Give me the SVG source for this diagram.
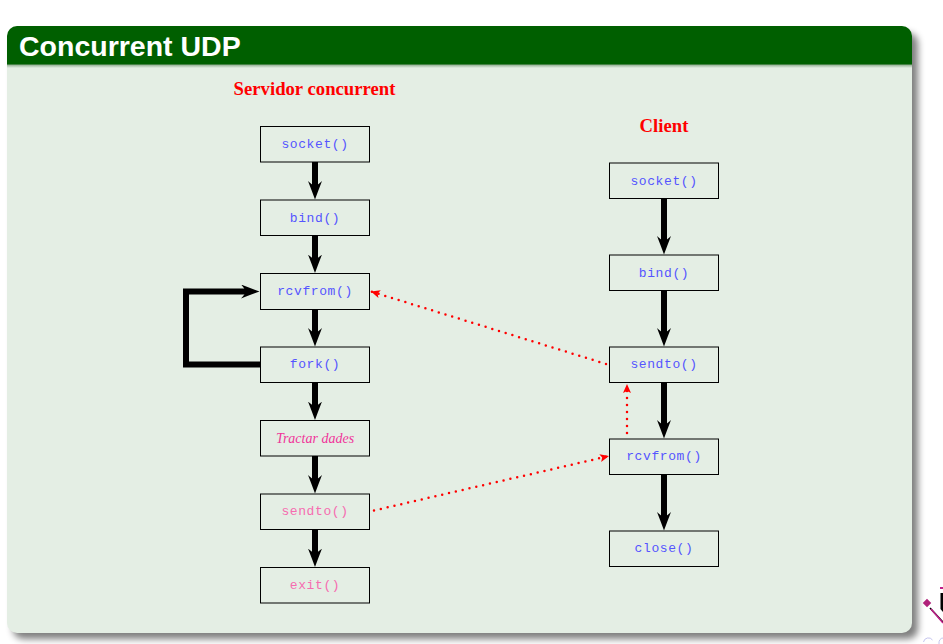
<svg xmlns="http://www.w3.org/2000/svg" width="943" height="644" viewBox="0 0 943 644">
<defs>
<filter id="sh" x="-5%" y="-5%" width="110%" height="110%"><feGaussianBlur stdDeviation="3.500"/></filter>
<linearGradient id="hb" x1="0" y1="0" x2="0" y2="1"><stop offset="0" stop-color="#7f9f7f"/><stop offset="1" stop-color="#e4eee4"/></linearGradient>
<marker id="ah" markerUnits="userSpaceOnUse" markerWidth="20" markerHeight="16" refX="6" refY="7" orient="auto"><path d="M0,0 Q9,3.500 18.500,7 Q9,10.500 0,14 Q4,10 4.500,7 Q4,4 0,0 Z" fill="#000"/></marker>
<marker id="rh" markerUnits="userSpaceOnUse" markerWidth="10" markerHeight="10" refX="9" refY="4.500" orient="auto"><path d="M0,0.500 L9,4.500 L0,8.500 L2,4.500 Z" fill="#f00"/></marker>
</defs>
<style>
.box{fill:none;stroke:#000;stroke-width:1}
.code{font-family:"Liberation Mono",monospace;font-size:13px;letter-spacing:.6px;text-anchor:middle;fill:#5555ff}
.pink{fill:#f66cb0}
.head{font-family:"Liberation Serif",serif;font-weight:bold;font-size:18.700px;text-anchor:middle;fill:#f00}
.thick{fill:none;stroke:#000;stroke-width:6;marker-end:url(#ah)}
.dot{fill:none;stroke:#f00;stroke-width:2.500;stroke-linecap:round;stroke-dasharray:0 7;marker-end:url(#rh)}
</style>
<rect width="943" height="644" fill="#fff"/>
<g id="panel">
<rect x="13" y="33" width="905" height="606" rx="10" fill="#000" opacity=".5" filter="url(#sh)"/>
<path d="M7,64 H912 V623 A10,10 0 0 1 902,633 H17 A10,10 0 0 1 7,623 Z" fill="#e4eee4"/>
<rect x="7" y="64" width="905" height="4" fill="url(#hb)"/>
<path d="M7,64.500 V36 A10,10 0 0 1 17,26 H902 A10,10 0 0 1 912,36 V64.500 Z" fill="#005f00"/>
<text x="19" y="56" font-family="'Liberation Sans',sans-serif" font-weight="bold" font-size="28.500" fill="#fff">Concurrent UDP</text>
</g>
<g id="logo">
<path d="M940.500,593 H943 V612 L940.500,609 Z" fill="#000"/>
<path d="M930,608 L943,622" stroke="#000" stroke-width="1.500" fill="none"/>
<path d="M931,609 L943,623" stroke="#c0208a" stroke-width="1.500" fill="none"/>
<rect x="924" y="600" width="6" height="6" fill="#b0207a" transform="rotate(45 927 603)"/>
<path d="M940,587 h3 v2 h-3 Z" fill="#c0208a"/>
<path d="M923.500,642 a5,5 0 0 1 9,-2 M939,644 a4,5 0 0 1 4,-6" stroke="#c4c4ee" stroke-width="1" fill="none"/>
</g>
<text class="head" x="314.500" y="95">Servidor concurrent</text>
<text class="head" x="664" y="132">Client</text>
<g id="connectors">
<path class="thick" d="M315,162 V187"/>
<path class="thick" d="M315,236 V260.500"/>
<path class="thick" d="M315,309.500 V334"/>
<path class="thick" d="M315,382.500 V407.500"/>
<path class="thick" d="M315,456 V481"/>
<path class="thick" d="M315,529.500 V554.500"/>
<path class="thick" d="M260,364.500 H186 V291.500 H247"/>
<path class="thick" d="M664,199 V242"/>
<path class="thick" d="M664,291 V334"/>
<path class="thick" d="M664,383 V426"/>
<path class="thick" d="M664,475 V518"/>
<path class="dot" d="M606,364 L371,291.500"/>
<path class="dot" d="M627,433 V384"/>
<path class="dot" d="M374,510.500 L609,456"/>
</g>
<g id="s-socket"><rect class="box" x="260.500" y="126.500" width="109" height="35.500"/><text class="code" x="315" y="148">socket()</text></g>
<g id="s-bind"><rect class="box" x="260.500" y="200" width="109" height="35.500"/><text class="code" x="315" y="222">bind()</text></g>
<g id="s-rcvfrom"><rect class="box" x="260.500" y="273.500" width="109" height="36"/><text class="code" x="315" y="295">rcvfrom()</text></g>
<g id="s-fork"><rect class="box" x="260.500" y="347" width="109" height="35.500"/><text class="code" x="315" y="368">fork()</text></g>
<g id="s-tractar"><rect class="box" x="260.500" y="420.500" width="109" height="35.500"/><text x="315" y="443" font-family="'Liberation Serif',serif" font-style="italic" font-size="14px" text-anchor="middle" fill="#f0359a">Tractar dades</text></g>
<g id="s-sendto"><rect class="box" x="260.500" y="494" width="109" height="35.500"/><text class="code pink" x="315" y="515">sendto()</text></g>
<g id="s-exit"><rect class="box" x="260.500" y="567.500" width="109" height="35.500"/><text class="code pink" x="315" y="589">exit()</text></g>
<g id="c-socket"><rect class="box" x="609.500" y="163" width="109" height="35.500"/><text class="code" x="664" y="185">socket()</text></g>
<g id="c-bind"><rect class="box" x="609.500" y="255" width="109" height="35.500"/><text class="code" x="664" y="277">bind()</text></g>
<g id="c-sendto"><rect class="box" x="609.500" y="347" width="109" height="35.500"/><text class="code" x="664" y="368">sendto()</text></g>
<g id="c-rcvfrom"><rect class="box" x="609.500" y="439" width="109" height="35.500"/><text class="code" x="664" y="460">rcvfrom()</text></g>
<g id="c-close"><rect class="box" x="609.500" y="531" width="109" height="35.500"/><text class="code" x="664" y="552">close()</text></g>
</svg>
